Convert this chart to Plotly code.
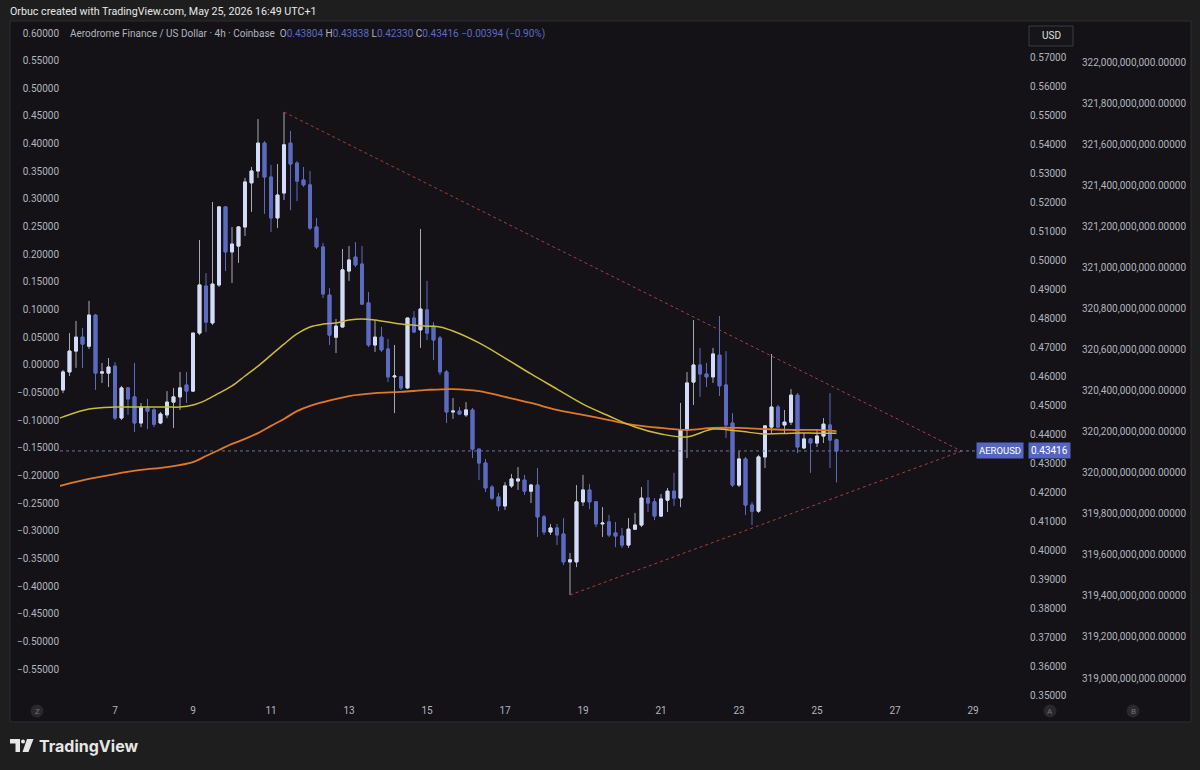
import numpy as np
import pandas as pd
import plotly.graph_objects as go

# ---------------- data ----------------
candle_start = "2026-05-05 16:00"   # first visible 4h candle

opens = [0.4552, 0.4614, 0.4686, 0.4734, 0.4703, 0.4810, 0.4610, 0.4610, 0.4634, 0.4455,
         0.4559, 0.4528, 0.4438, 0.4490, 0.4483, 0.4438, 0.4466, 0.4510, 0.4528, 0.4569,
         0.4548, 0.4748, 0.4910, 0.4783, 0.4914, 0.5183, 0.5028, 0.5048, 0.5114, 0.5266,
         0.5307, 0.5403, 0.5286, 0.5145, 0.5231, 0.5403, 0.5334, 0.5276, 0.5259, 0.5114,
         0.5045, 0.4879, 0.4734, 0.4769, 0.4962, 0.5010, 0.4986, 0.4852, 0.4707, 0.4734,
         0.4693, 0.4597, 0.4597, 0.4559, 0.4800, 0.4759, 0.4828, 0.4772, 0.4731, 0.4614,
         0.4476, 0.4479, 0.4466, 0.4483, 0.4348, 0.4300, 0.4217, 0.4183, 0.4152, 0.4221,
         0.4238, 0.4241, 0.4203, 0.4224, 0.4114, 0.4062, 0.4076, 0.4055, 0.3959, 0.3959,
         0.4166, 0.4207, 0.4166, 0.4090, 0.4097, 0.4059, 0.4048, 0.4017, 0.4072, 0.4086,
         0.4179, 0.4166, 0.4117, 0.4172, 0.4203, 0.4179, 0.4414, 0.4579, 0.4638, 0.4607,
         0.4597, 0.4672, 0.4569, 0.4438, 0.4224, 0.4314, 0.4155, 0.4134, 0.4321, 0.4424,
         0.4493, 0.4431, 0.4441, 0.4534, 0.4352, 0.4383, 0.4369, 0.4393, 0.4431, 0.43804]
highs = [0.4621, 0.4748, 0.4790, 0.4766, 0.4859, 0.4814, 0.4645, 0.4662, 0.4648, 0.4566,
         0.4562, 0.4645, 0.4507, 0.4521, 0.4490, 0.4476, 0.4548, 0.4559, 0.4614, 0.4614,
         0.4748, 0.5069, 0.4955, 0.5200, 0.5186, 0.5186, 0.5114, 0.5117, 0.5283, 0.5321,
         0.5486, 0.5410, 0.5328, 0.5331, 0.5510, 0.5445, 0.5341, 0.5321, 0.5307, 0.5145,
         0.5059, 0.4903, 0.4797, 0.5038, 0.5048, 0.5062, 0.5048, 0.4890, 0.4793, 0.4769,
         0.4728, 0.4707, 0.4600, 0.4800, 0.4824, 0.5107, 0.4928, 0.4786, 0.4738, 0.4621,
         0.4524, 0.4493, 0.4510, 0.4490, 0.4348, 0.4314, 0.4224, 0.4197, 0.4234, 0.4262,
         0.4286, 0.4259, 0.4228, 0.4283, 0.4121, 0.4090, 0.4090, 0.4110, 0.3990, 0.4224,
         0.4259, 0.4228, 0.4169, 0.4148, 0.4121, 0.4097, 0.4076, 0.4110, 0.4128, 0.4217,
         0.4241, 0.4179, 0.4193, 0.4214, 0.4266, 0.4507, 0.4614, 0.4793, 0.4697, 0.4645,
         0.4697, 0.4807, 0.4686, 0.4472, 0.4341, 0.4321, 0.4166, 0.4328, 0.4431, 0.4676,
         0.4500, 0.4483, 0.4555, 0.4541, 0.4403, 0.4386, 0.4414, 0.4455, 0.4541, 0.43838]
lows = [0.4541, 0.4600, 0.4628, 0.4628, 0.4693, 0.4552, 0.4576, 0.4562, 0.4448, 0.4448,
        0.4466, 0.4407, 0.4424, 0.4417, 0.4424, 0.4434, 0.4455, 0.4421, 0.4483, 0.4507,
        0.4545, 0.4741, 0.4752, 0.4776, 0.4907, 0.4962, 0.4921, 0.4990, 0.5083, 0.5166,
        0.5283, 0.5159, 0.5097, 0.5110, 0.5207, 0.5172, 0.5203, 0.5252, 0.5103, 0.5038,
        0.4869, 0.4707, 0.4679, 0.4769, 0.4928, 0.4976, 0.4845, 0.4700, 0.4683, 0.4683,
        0.4579, 0.4472, 0.4552, 0.4555, 0.4748, 0.4697, 0.4724, 0.4655, 0.4603, 0.4438,
        0.4452, 0.4466, 0.4459, 0.4317, 0.4241, 0.4200, 0.4172, 0.4134, 0.4138, 0.4214,
        0.4207, 0.4190, 0.4162, 0.4045, 0.4052, 0.4052, 0.4017, 0.3948, 0.3845, 0.3941,
        0.4152, 0.4141, 0.4079, 0.4045, 0.4045, 0.4010, 0.4007, 0.4007, 0.4069, 0.4079,
        0.4131, 0.4103, 0.4114, 0.4131, 0.4152, 0.4148, 0.4317, 0.4500, 0.4528, 0.4562,
        0.4576, 0.4531, 0.4386, 0.4217, 0.4217, 0.4121, 0.4086, 0.4128, 0.4283, 0.4403,
        0.4421, 0.4403, 0.4431, 0.4334, 0.4348, 0.4266, 0.4355, 0.4369, 0.4283, 0.42330]
closes = [0.4614, 0.4686, 0.4734, 0.4710, 0.4810, 0.4610, 0.4614, 0.4631, 0.4455, 0.4559,
          0.4521, 0.4438, 0.4493, 0.4479, 0.4434, 0.4469, 0.4510, 0.4528, 0.4559, 0.4548,
          0.4748, 0.4914, 0.4786, 0.4917, 0.5183, 0.5028, 0.5055, 0.5114, 0.5269, 0.5307,
          0.5403, 0.5286, 0.5145, 0.5224, 0.5397, 0.5331, 0.5272, 0.5259, 0.5110, 0.5045,
          0.4883, 0.4741, 0.4772, 0.4966, 0.5000, 0.4983, 0.4848, 0.4707, 0.4734, 0.4690,
          0.4597, 0.4600, 0.4559, 0.4800, 0.4752, 0.4831, 0.4748, 0.4724, 0.4614, 0.4476,
          0.4479, 0.4469, 0.4483, 0.4348, 0.4300, 0.4214, 0.4179, 0.4152, 0.4221, 0.4245,
          0.4245, 0.4203, 0.4224, 0.4114, 0.4062, 0.4076, 0.4052, 0.3959, 0.3966, 0.4166,
          0.4207, 0.4166, 0.4090, 0.4093, 0.4052, 0.4048, 0.4017, 0.4072, 0.4086, 0.4179,
          0.4162, 0.4117, 0.4176, 0.4203, 0.4179, 0.4414, 0.4576, 0.4638, 0.4607, 0.4597,
          0.4676, 0.4566, 0.4431, 0.4224, 0.4314, 0.4155, 0.4134, 0.4321, 0.4428, 0.4493,
          0.4424, 0.4441, 0.4534, 0.4355, 0.4383, 0.4369, 0.4393, 0.4434, 0.4379, 0.43416]

# moving averages, sampled at candle indices
ma_fast_idx = [-0.5, 0, 4, 8, 12, 16, 18, 20, 22, 24, 26, 28, 30, 32, 34, 36, 38, 40, 42, 44,
               46, 48, 52, 56, 58, 60, 64, 68, 72, 76, 80, 84, 88, 92, 96, 100, 104, 108,
               112, 116, 119]
ma_fast = [0.4455, 0.4459, 0.4486, 0.4493, 0.4493, 0.4493, 0.4493, 0.4500, 0.4517, 0.4541,
           0.4566, 0.4600, 0.4634, 0.4672, 0.4710, 0.4745, 0.4769, 0.4779, 0.4783, 0.4793,
           0.4797, 0.4793, 0.4779, 0.4772, 0.4769, 0.4755, 0.4714, 0.4662, 0.4607, 0.4555,
           0.4503, 0.4462, 0.4424, 0.4400, 0.4390, 0.4417, 0.4410, 0.4400, 0.4403, 0.4403,
           0.4403]
ma_slow_idx = [-0.5, 0, 4, 8, 12, 16, 20, 22, 24, 26, 28, 30, 32, 34, 36, 38, 40, 44, 48, 52,
               56, 60, 64, 68, 72, 76, 80, 84, 88, 92, 96, 100, 104, 108, 112, 116, 119]
ma_slow = [0.4221, 0.4224, 0.4245, 0.4262, 0.4276, 0.4286, 0.4303, 0.4324, 0.4345, 0.4366,
           0.4383, 0.4403, 0.4428, 0.4452, 0.4479, 0.4497, 0.4510, 0.4531, 0.4541, 0.4545,
           0.4552, 0.4555, 0.4548, 0.4528, 0.4507, 0.4483, 0.4466, 0.4448, 0.4431, 0.4421,
           0.4414, 0.4421, 0.4421, 0.4417, 0.4414, 0.4414, 0.4410]

# triangle trend lines
trend_upper_t = ["2026-05-11 08:00", "2026-05-28 17:00"]
trend_upper_p = [0.5510, 0.4341]
trend_lower_t = ["2026-05-18 16:00", "2026-05-28 17:00"]
trend_lower_p = [0.3845, 0.4341]

day_ticks = ["2026-05-07", "2026-05-09", "2026-05-11", "2026-05-13", "2026-05-15",
             "2026-05-17", "2026-05-19", "2026-05-21", "2026-05-23", "2026-05-25",
             "2026-05-27", "2026-05-29"]
day_labels = ["7", "9", "11", "13", "15", "17", "19", "21", "23", "25", "27", "29"]

price_ticks = [0.35, 0.36, 0.37, 0.38, 0.39, 0.40, 0.41, 0.42, 0.43, 0.44, 0.45, 0.46,
               0.47, 0.48, 0.49, 0.50, 0.51, 0.52, 0.53, 0.54, 0.55, 0.56, 0.57]
left_ticks = [-0.55, -0.50, -0.45, -0.40, -0.35, -0.30, -0.25, -0.20, -0.15, -0.10, -0.05,
              0.0, 0.05, 0.10, 0.15, 0.20, 0.25, 0.30, 0.35, 0.40, 0.45, 0.50, 0.55, 0.60]
b_ticks = [319.0e9, 319.2e9, 319.4e9, 319.6e9, 319.8e9, 320.0e9, 320.2e9, 320.4e9,
           320.6e9, 320.8e9, 321.0e9, 321.2e9, 321.4e9, 321.6e9, 321.8e9, 322.0e9]

# ---------------- styling ----------------
OUTER = "#1e1e1e"
PANE = "#141217"
TXT = "#b2b5be"
UP_BODY = "#d3ddf8"
UP_WICK = "#a3a8b8"
DOWN = "#5c6bc0"
TAG = "#5565c2"
FONT = "Roboto, sans-serif"

W, H = 1200, 770
ML, MR, MT, MB = 60, 15, 24, 70
PW, PH = W - ML - MR, H - MT - MB


def px_x(x):
    return (x - ML) / PW


def px_y(y):
    return (H - MB - y) / PH


XD = px_x(1025)

t0 = pd.Timestamp(candle_start)
times = pd.date_range(candle_start, periods=len(opens), freq="4h")
ma_fast_t = t0 + pd.to_timedelta(np.array(ma_fast_idx) * 4, unit="h")
ma_slow_t = t0 + pd.to_timedelta(np.array(ma_slow_idx) * 4, unit="h")

body_hi = [max(o, c) for o, c in zip(opens, closes)]
body_lo = [min(o, c) for o, c in zip(opens, closes)]

fig = go.Figure()

# wicks (full candles)
fig.add_trace(go.Candlestick(
    x=times, open=opens, high=highs, low=lows, close=closes,
    increasing=dict(line=dict(color=UP_WICK, width=1), fillcolor=UP_BODY),
    decreasing=dict(line=dict(color=DOWN, width=1), fillcolor=DOWN),
    whiskerwidth=0, hoverinfo="skip", showlegend=False))
# bodies on top
fig.add_trace(go.Candlestick(
    x=times, open=opens, high=body_hi, low=body_lo, close=closes,
    increasing=dict(line=dict(color=UP_BODY, width=1), fillcolor=UP_BODY),
    decreasing=dict(line=dict(color=DOWN, width=1), fillcolor=DOWN),
    whiskerwidth=0, hoverinfo="skip", showlegend=False))

fig.add_trace(go.Scatter(x=ma_slow_t, y=ma_slow, mode="lines",
                         line=dict(color="#e0782a", width=1.8, shape="spline"),
                         hoverinfo="skip", showlegend=False))
fig.add_trace(go.Scatter(x=ma_fast_t, y=ma_fast, mode="lines",
                         line=dict(color="#cbbb3b", width=1.5, shape="spline"),
                         hoverinfo="skip", showlegend=False))

for tt, pp in [(trend_upper_t, trend_upper_p), (trend_lower_t, trend_lower_p)]:
    fig.add_trace(go.Scatter(x=pd.to_datetime(tt), y=pp, mode="lines",
                             line=dict(color="#a5403e", width=1, dash="dot"),
                             hoverinfo="skip", showlegend=False))

# dummy traces so the extra scales are drawn
fig.add_trace(go.Scatter(x=[], y=[], yaxis="y2", showlegend=False))
fig.add_trace(go.Scatter(x=[], y=[], yaxis="y3", showlegend=False))

# axis ranges derived from the reference calibration
x_range = ["2026-05-05 14:09:14", "2026-05-30 08:00:00"]
y_range = [0.34828, 0.58138]
y2_range = [-0.60606, 0.61627]
y3_range = [318893110000, 322185050000]

axis_common = dict(showgrid=False, zeroline=False, showline=False, ticks="",
                   tickfont=dict(family=FONT, size=10, color=TXT))

fig.update_layout(
    width=W, height=H,
    margin=dict(l=ML, r=MR, t=MT, b=MB),
    paper_bgcolor=OUTER, plot_bgcolor=PANE,
    showlegend=False, boxgap=0.35,
    font=dict(family=FONT, size=10, color=TXT),
    xaxis=dict(domain=[0, XD], type="date", range=x_range, tickvals=day_ticks,
               ticktext=day_labels, rangeslider=dict(visible=False),
               ticklabelstandoff=3, **axis_common),
    yaxis=dict(side="right", range=y_range, tickvals=price_ticks, tickformat=".5f",
               ticklabelstandoff=4, **axis_common),
    yaxis2=dict(overlaying="y", side="left", range=y2_range, tickvals=left_ticks,
                tickformat=".5f", **axis_common),
    yaxis3=dict(overlaying="y", anchor="free", position=px_x(1081), side="right",
                range=y3_range, tickvals=b_ticks, tickformat=",.5f", **axis_common),
)

shapes = []
# chart pane
shapes.append(dict(type="rect", xref="paper", yref="paper",
                   x0=px_x(10), x1=px_x(1191), y0=px_y(722), y1=px_y(21),
                   fillcolor=PANE, line=dict(color="#2c2c30", width=1), layer="below"))
# last price line
shapes.append(dict(type="line", xref="paper", yref="y", x0=0, x1=XD,
                   y0=closes[-1], y1=closes[-1],
                   line=dict(color="#6673b5", width=1, dash="dot")))
# scale buttons
for cx in (37, 1050, 1133):
    shapes.append(dict(type="circle", xref="paper", yref="paper",
                       x0=px_x(cx - 6.5), x1=px_x(cx + 6.5), y0=px_y(717.5), y1=px_y(704.5),
                       fillcolor="#28282d", line=dict(width=0)))


def poly(pts):
    return "M " + " L ".join(f"{px_x(a)},{px_y(b)}" for a, b in pts) + " Z"


# TradingView logo glyph
LOGO = "#e6e6e6"
shapes.append(dict(type="path", xref="paper", yref="paper",
                   path=poly([(10, 739), (20, 739), (20, 752), (15.5, 752), (15.5, 743.5), (10, 743.5)]),
                   fillcolor=LOGO, line=dict(width=0)))
shapes.append(dict(type="circle", xref="paper", yref="paper",
                   x0=px_x(21), x1=px_x(25), y0=px_y(743.5), y1=px_y(739.5),
                   fillcolor=LOGO, line=dict(width=0)))
shapes.append(dict(type="path", xref="paper", yref="paper",
                   path=poly([(27, 739), (33.5, 739), (28.5, 752), (22.5, 752)]),
                   fillcolor=LOGO, line=dict(width=0)))
# USD box
shapes.append(dict(type="rect", xref="paper", yref="paper",
                   x0=px_x(1029), x1=px_x(1073), y0=px_y(46), y1=px_y(26),
                   fillcolor="#161519", line=dict(color="#3a3a40", width=1)))

fig.update_layout(shapes=shapes)

ann = []
ann.append(dict(xref="paper", yref="paper", x=px_x(8), y=px_y(11), xanchor="left",
                yanchor="middle", showarrow=False,
                text="Orbuc created with TradingView.com, May 25, 2026 16:49 UTC+1",
                font=dict(family=FONT, size=10.7, color="#e8e8e8")))
V = DOWN
legend_txt = ("Aerodrome Finance / US Dollar · 4h · Coinbase  "
              f"O<span style='color:{V}'>{opens[-1]:.5f}</span> "
              f"H<span style='color:{V}'>{highs[-1]:.5f}</span> "
              f"L<span style='color:{V}'>{lows[-1]:.5f}</span> "
              f"C<span style='color:{V}'>{closes[-1]:.5f}</span> "
              f"<span style='color:{V}'>−0.00394 (−0.90%)</span>")
ann.append(dict(xref="paper", yref="paper", x=px_x(68), y=px_y(34), xanchor="left",
                yanchor="middle", showarrow=False, text=legend_txt,
                font=dict(family=FONT, size=10, color=TXT)))
ann.append(dict(xref="paper", yref="paper", x=px_x(1051), y=px_y(36), xanchor="center",
                yanchor="middle", showarrow=False, text="USD",
                font=dict(family=FONT, size=10, color="#e0e0e0")))
ann.append(dict(xref="paper", yref="y", x=px_x(1024), y=closes[-1], xanchor="right",
                yanchor="middle", showarrow=False, text="AEROUSD", bgcolor=TAG,
                borderpad=2, font=dict(family=FONT, size=9.5, color="#ffffff")))
ann.append(dict(xref="paper", yref="y", x=px_x(1028), y=closes[-1], xanchor="left",
                yanchor="middle", showarrow=False, text=f"{closes[-1]:.5f}", bgcolor=TAG,
                borderpad=2, font=dict(family=FONT, size=10, color="#ffffff")))
for cx, letter in ((37, "Z"), (1050, "A"), (1133, "B")):
    ann.append(dict(xref="paper", yref="paper", x=px_x(cx), y=px_y(711), xanchor="center",
                    yanchor="middle", showarrow=False, text=letter,
                    font=dict(family=FONT, size=8, color="#75757c")))
ann.append(dict(xref="paper", yref="paper", x=px_x(37), y=px_y(746), xanchor="left",
                yanchor="middle", showarrow=False, text="<b>TradingView</b>",
                font=dict(family="Inter, Roboto, sans-serif", size=16, color=LOGO)))
fig.update_layout(annotations=ann)

fig.write_html("out.html")
